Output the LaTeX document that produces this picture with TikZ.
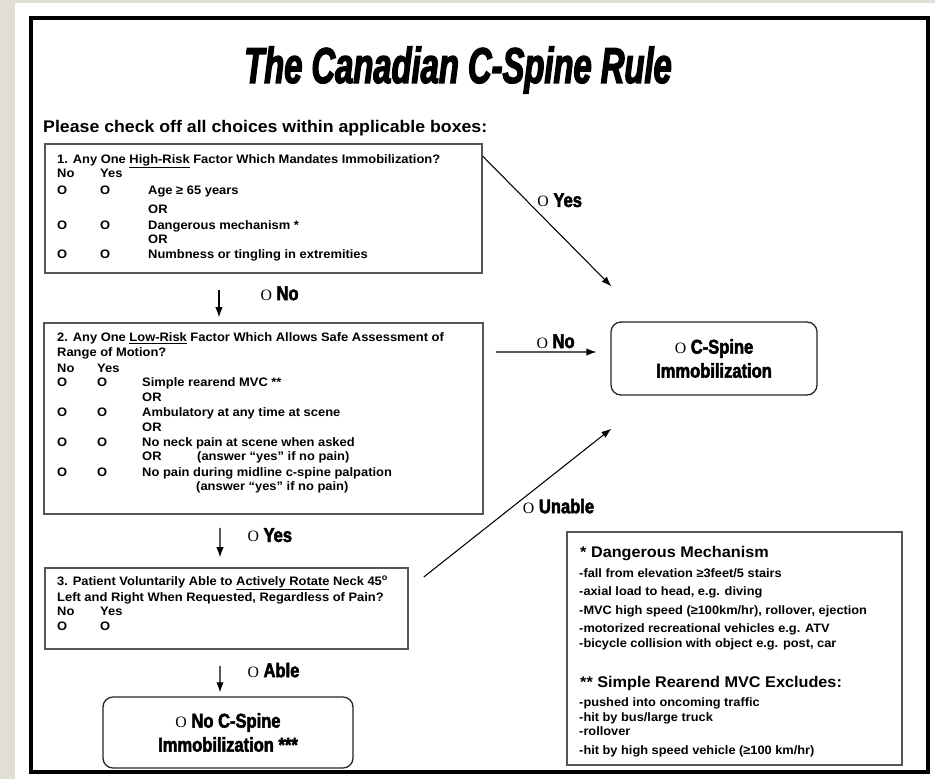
\documentclass[tikz,border=0pt]{standalone}
\usepackage{fontspec}
\setmainfont{Liberation Sans}[FakeStretch=1.05]
\newfontfamily\impfont{Liberation Sans}[FakeStretch=0.83,BoldFeatures={FakeBold=2.5}]
\newfontfamily\titlefont{Liberation Sans}[FakeStretch=0.65,BoldItalicFeatures={FakeBold=2.5}]
\newfontfamily\ofont{Liberation Serif}
\usetikzlibrary{quotes,arrows.meta}
\definecolor{paper}{HTML}{E3DED5}
\definecolor{boxline}{HTML}{555555}
\tikzstyle{every picture} = [x=0.3mm, y=-0.3mm]
\tikzstyle{arr} = [-{Latex[length=3mm,width=2.2mm]}, line width=0.9pt, black]
\tikzstyle{qbox} = [draw=boxline, line width=1.3pt, inner sep=0]
\tikzstyle{endbox} = [draw=black!85, line width=1.1pt, rounded corners=3mm, align=center, inner sep=0, font=\impfont\bfseries\fontsize{17}{20.5}\selectfont]
\tikzstyle{txt} = [anchor=base west, inner sep=0, font=\bfseries\fontsize{10.5}{12}\selectfont]
\tikzstyle{note} = [anchor=base west, inner sep=0, font=\bfseries\fontsize{10.4}{12}\selectfont]
\tikzstyle{head} = [anchor=base west, inner sep=0, font=\bfseries\fontsize{13.2}{15}\selectfont]
\tikzstyle{tag} = [font=\impfont\bfseries\fontsize{17}{18}\selectfont, inner sep=0]
\newcommand{\oo}{{\ofont\mdseries\fontsize{13.5}{13.5}\selectfont O}}
\newcommand{\ckrow}[3]{\makebox[#1][l]{O}\makebox[#2][l]{O}#3}

\begin{document}
\begin{tikzpicture}
            \useasboundingbox (0,0) rectangle (935,779);
            \fill[paper] (0,0) rectangle (935,779);
            \fill[white] (15,3) rectangle (935,779);
            \draw[line width=2.6pt] (31,18) rectangle (928,772);

            \node (title) at (458,83) [anchor=base, inner sep=0, font=\titlefont\bfseries\itshape\fontsize{43}{44}\selectfont] {The Canadian C-Spine Rule};
            \node (intro) at (43,132) [anchor=base west, inner sep=0, font=\bfseries\fontsize{14.4}{16}\selectfont] {Please check off all choices within applicable boxes:};

            % question boxes
            \node (box 1) at (263.5,208.5) [qbox, minimum width=131.1mm, minimum height=38.7mm] {};
            \node (box 2) at (263.5,418.5) [qbox, minimum width=131.7mm, minimum height=57.3mm] {};
            \node (box 3) at (226.5,608.5) [qbox, minimum width=108.9mm, minimum height=24.3mm] {};
            \node (immob) at (714,358.5) [endbox, minimum width=61.8mm, minimum height=21.9mm] {\oo\ C-Spine\\Immobilization};
            \node (no immob) at (228,732.5) [endbox, minimum width=75mm, minimum height=21.3mm] {\oo\ No C-Spine\\Immobilization ***};
            \node (legend) at (734.5,648.5) [qbox, minimum width=100.5mm, minimum height=69.9mm] {};

            % box 1
            \node (q1 head) at (57,163) [txt] {1. Any One \underline{High-Risk} Factor Which Mandates Immobilization?};
            \node (q1 ny) at (57,177) [txt] {\makebox[12.9mm][l]{No}Yes};
            \node (q1 a) at (57,194) [txt] {\ckrow{12.9mm}{14.4mm}{Age ≥ 65 years}};
            \node (q1 or1) at (148,213) [txt] {OR};
            \node (q1 b) at (57,229) [txt] {\ckrow{12.9mm}{14.4mm}{Dangerous mechanism *}};
            \node (q1 or2) at (148,243) [txt] {OR};
            \node (q1 c) at (57,258) [txt] {\ckrow{12.9mm}{14.4mm}{Numbness or tingling in extremities}};

            % box 2
            \node (q2 head) at (57,341) [txt] {2. Any One \underline{Low-Risk} Factor Which Allows Safe Assessment of};
            \node (q2 head2) at (57,356) [txt] {Range of Motion?};
            \node (q2 ny) at (57,372) [txt] {\makebox[12mm][l]{No}Yes};
            \node (q2 a) at (57,386) [txt] {\ckrow{12mm}{13.5mm}{Simple rearend MVC **}};
            \node (q2 or1) at (142,401) [txt] {OR};
            \node (q2 b) at (57,416) [txt] {\ckrow{12mm}{13.5mm}{Ambulatory at any time at scene}};
            \node (q2 or2) at (142,431) [txt] {OR};
            \node (q2 c) at (57,446) [txt] {\ckrow{12mm}{13.5mm}{No neck pain at scene when asked}};
            \node (q2 or3) at (142,460) [txt] {OR};
            \node (q2 c2) at (197,460) [txt] {(answer “yes” if no pain)};
            \node (q2 d) at (57,476) [txt] {\ckrow{12mm}{13.5mm}{No pain during midline c-spine palpation}};
            \node (q2 d2) at (196,490) [txt] {(answer “yes” if no pain)};

            % box 3
            \node (q3 head) at (57,585) [txt] {3. Patient Voluntarily Able to \underline{Actively Rotate} Neck 45\textsuperscript{o}};
            \node (q3 head2) at (57,601) [txt] {Left and Right When Requested, Regardless of Pain?};
            \node (q3 ny) at (57,615) [txt] {\makebox[12.9mm][l]{No}Yes};
            \node (q3 a) at (57,630) [txt] {\makebox[12.9mm][l]{O}O};

            % legend
            \node (dm head) at (580,557) [head] {* Dangerous Mechanism};
            \node (dm 1) at (579,577) [note] {-fall from elevation ≥3feet/5 stairs};
            \node (dm 2) at (579,595) [note] {-axial load to head, e.g. diving};
            \node (dm 3) at (579,614) [note] {-MVC high speed (≥100km/hr), rollover, ejection};
            \node (dm 4) at (579,632) [note] {-motorized recreational vehicles e.g. ATV};
            \node (dm 5) at (579,647) [note] {-bicycle collision with object e.g. post, car};
            \node (rm head) at (580,687) [head] {** Simple Rearend MVC Excludes:};
            \node (rm 1) at (579,706) [note] {-pushed into oncoming traffic};
            \node (rm 2) at (579,721) [note] {-hit by bus/large truck};
            \node (rm 3) at (579,735) [note] {-rollover};
            \node (rm 4) at (579,754) [note] {-hit by high speed vehicle (≥100 km/hr)};

            \path 	([xshift=-13.35mm,yshift=-4.8mm]box 1.south) edge[arr,"\oo\ No" {tag, pos=0.38, anchor=base west, xshift=12.3mm}] ([xshift=-13.35mm,yshift=1.5mm]box 2.north)
            		([xshift=-13.05mm,yshift=-3.9mm]box 2.south) edge[arr,"\oo\ Yes" {tag, pos=0.48, anchor=base west, xshift=8.1mm}] ([xshift=-1.95mm,yshift=3mm]box 3.north)
            		([xshift=-1.95mm,yshift=-4.8mm]box 3.south) edge[arr,"\oo\ Able" {tag, pos=0.43, anchor=base west, xshift=8.1mm}] ([xshift=-2.4mm,yshift=1.2mm]no immob.north)
            		([yshift=-3.9mm]box 1.north east) edge[arr,"\oo\ Yes" {tag, pos=0.39, anchor=base west, xshift=1.2mm}] ([xshift=0.3mm,yshift=10.5mm]immob.north west)
            		([xshift=3.6mm,yshift=19.95mm]box 2.east) edge[arr,"\oo\ No" {tag, pos=0.40, anchor=base west, yshift=1.2mm}] ([xshift=-4.2mm,yshift=1.95mm]immob.west)
            		([xshift=4.5mm,yshift=9.45mm]box 3.east) edge[arr,"\oo\ Unable" {tag, pos=0.43, anchor=base west, xshift=5.4mm}] ([xshift=0.3mm,yshift=-9.9mm]immob.south west);
        \end{tikzpicture}
\end{document}
